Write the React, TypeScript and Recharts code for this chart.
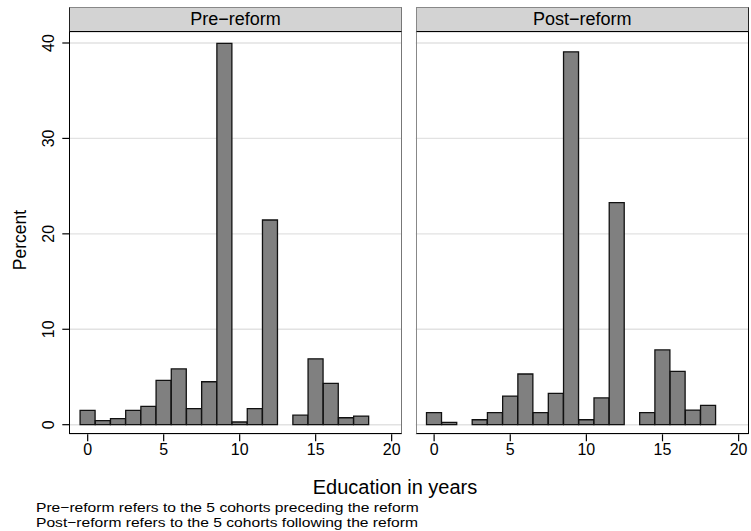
import React from 'react'
import { BarChart, Bar, XAxis, YAxis, CartesianGrid } from 'recharts'

// years of education (bin centres)
const years = [0, 1, 2, 3, 4, 5, 6, 7, 8, 9, 10, 11, 12, 13, 14, 15, 16, 17, 18]

// percent of individuals per year
const preReform = [1.5, 0.42, 0.63, 1.5, 1.92, 4.65, 5.84, 1.68, 4.5, 39.95, 0.28, 1.68, 21.45, null, 1.0, 6.9, 4.33, 0.73, 0.9]
const postReform = [1.26, 0.24, null, 0.52, 1.26, 3.0, 5.31, 1.26, 3.28, 39.07, 0.52, 2.8, 23.27, null, 1.26, 7.83, 5.59, 1.53, 2.03]

const xTicks = [0, 5, 10, 15, 20]
const yTicks = [0, 10, 20, 30, 40]

const panelTitles = ['Pre\u2212reform', 'Post\u2212reform']
const notes = [
  'Pre\u2212reform refers to the 5 cohorts preceding the reform',
  'Post\u2212reform refers to the 5 cohorts following the reform',
]

const FONT = '"Liberation Sans", Arial, Helvetica, sans-serif'

const toRows = (values: (number | null)[]) => years.map((y, i) => ({ year: y, pct: values[i] }))

const YTick = ({ x, y, payload }: any) => (
  <text
    x={x - 6}
    y={y}
    transform={`rotate(-90 ${x - 6} ${y})`}
    textAnchor="middle"
    fontSize={16}
    fontFamily={FONT}
    fill="#000"
  >
    {payload.value}
  </text>
)

const XTick = ({ x, y, payload }: any) => (
  <text x={x} y={y + 12} textAnchor="middle" fontSize={16} fontFamily={FONT} fill="#000">
    {payload.value}
  </text>
)

// plot region geometry (pixels)
const PLOT_TOP = 32.3
const PLOT_BOTTOM = 434.3

function Panel({ data, showY, left, width, plotLeft }: any) {
  return (
    <div style={{ position: 'absolute', left, top: 0 }}>
      <BarChart
        width={width}
        height={PLOT_BOTTOM + 30}
        data={data}
        margin={{ top: PLOT_TOP, right: 0, bottom: 0, left: showY ? 0 : plotLeft }}
        barCategoryGap={0}
        barGap={0}
      >
        <CartesianGrid vertical={false} stroke="#e2e2e2" strokeWidth={1.4} />
        <XAxis
          dataKey="year"
          type="number"
          domain={[-1.21, 20.66]}
          ticks={xTicks}
          allowDataOverflow
          axisLine={false}
          tickLine={{ stroke: '#000', strokeWidth: 1.2 }}
          tickSize={7}
          tick={<XTick />}
          height={30}
        />
        <YAxis
          type="number"
          domain={[-1.006, 41.12]}
          ticks={yTicks}
          allowDataOverflow
          hide={!showY}
          width={plotLeft}
          axisLine={false}
          tickLine={{ stroke: '#000', strokeWidth: 1.2 }}
          tickSize={7}
          tick={<YTick />}
        />
        <Bar dataKey="pct" fill="#808080" stroke="#111" strokeWidth={1.3} isAnimationActive={false} />
      </BarChart>
    </div>
  )
}

export default function App() {
  const panels = [
    { data: toRows(preReform), left: 0, width: 401.7, plotLeft: 69.3, showY: true, frameL: 69.3, frameR: 401.7 },
    { data: toRows(postReform), left: 405, width: 343.7, plotLeft: 10.7, showY: false, frameL: 415.7, frameR: 748.7 },
  ]
  return (
    <div style={{ position: 'absolute', left: 0, top: 0, width: 751, height: 531, background: '#fff', fontFamily: FONT, overflow: 'hidden' }}>
      {panels.map((p, i) => (
        <React.Fragment key={i}>
          <Panel data={p.data} showY={p.showY} left={p.left} width={p.width} plotLeft={p.plotLeft} />
          {/* strip header */}
          <div
            style={{
              position: 'absolute',
              left: p.frameL,
              top: 7.3,
              width: p.frameR - p.frameL,
              height: PLOT_TOP - 7.3,
              boxSizing: 'border-box',
              background: '#d3d3d3',
              borderTop: '1px solid #888',
              borderLeft: i === 0 ? '1.5px solid #222' : '1px solid #888',
              borderRight: i === 0 ? '1px solid #777' : '1.5px solid #222',
              borderBottom: '1.5px solid #000',
              textAlign: 'center',
              fontSize: 18,
              lineHeight: '23px',
              color: '#000',
            }}
          >
            {panelTitles[i]}
          </div>
          {/* plot frame */}
          <div
            style={{
              position: 'absolute',
              left: p.frameL,
              top: PLOT_TOP,
              width: p.frameR - p.frameL,
              height: PLOT_BOTTOM - PLOT_TOP,
              boxSizing: 'border-box',
              borderLeft: i === 0 ? '1.5px solid #000' : '1px solid #888',
              borderRight: i === 0 ? '1px solid #777' : '1.5px solid #000',
              borderBottom: '1.5px solid #000',
              pointerEvents: 'none',
            }}
          />
        </React.Fragment>
      ))}
      <div
        style={{
          position: 'absolute',
          left: 20,
          top: 240,
          transform: 'translate(-50%, -50%) rotate(-90deg)',
          fontSize: 17.5,
          whiteSpace: 'nowrap',
        }}
      >
        Percent
      </div>
      <div
        style={{
          position: 'absolute',
          left: 395,
          top: 487,
          transform: 'translate(-50%, -50%)',
          fontSize: 20,
          whiteSpace: 'nowrap',
        }}
      >
        Education in years
      </div>
      {notes.map((n, i) => (
        <div
          key={n}
          style={{
            position: 'absolute',
            left: 36,
            top: 501 + i * 14.5,
            fontSize: 13,
            lineHeight: '14px',
            whiteSpace: 'nowrap',
            transform: 'scaleX(1.2)',
            transformOrigin: 'left center',
          }}
        >
          {n}
        </div>
      ))}
    </div>
  )
}
